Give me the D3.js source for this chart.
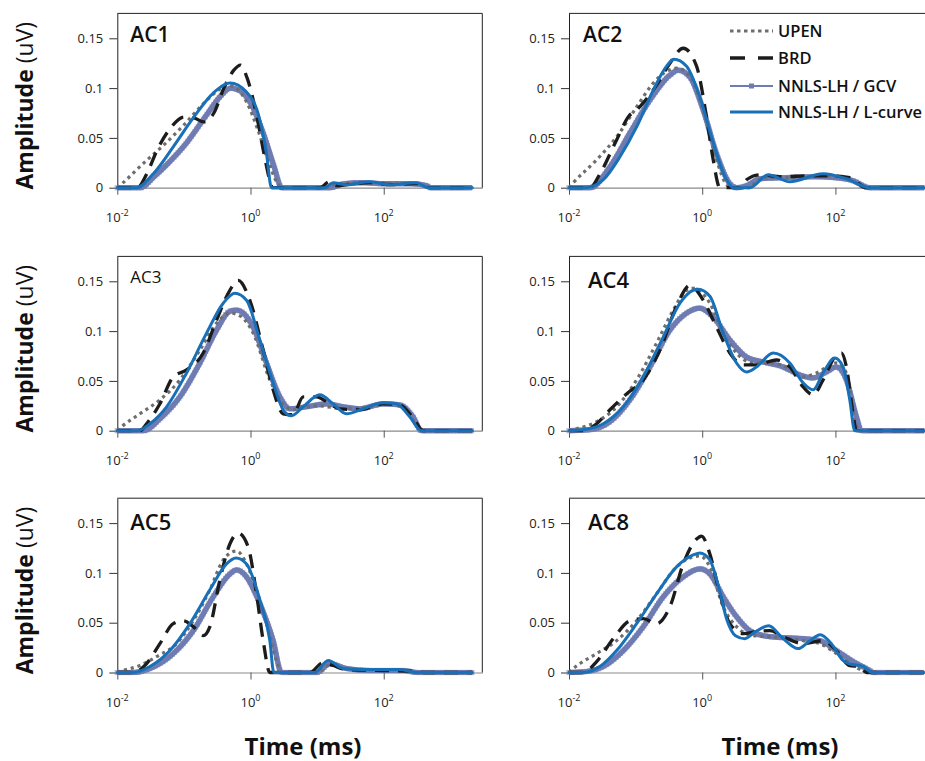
<!DOCTYPE html>
<html><head><meta charset="utf-8">
<script src="https://cdn.jsdelivr.net/npm/d3@7"></script>
<style>body{margin:0;background:#fff;} svg{display:block;font-family:"Open Sans",sans-serif;}</style>
</head><body><svg id="c" width="925" height="761"></svg>
<script>
// Each point: [log10(time in ms), amplitude in uV]
const ac1Upen = [[-2,0],[-1.93,0.004],[-1.6,0.025],[-1.3,0.043],[-1.0,0.063],[-0.7,0.085],[-0.5,0.097],[-0.35,0.103],[-0.2,0.099],[-0.05,0.085],[0.1,0.06],[0.25,0.03],[0.4,0.005],[0.47,0],[1.1,0],[1.3,0.004],[1.6,0.005],[1.9,0.005],[2.2,0.004],[2.5,0.004],[2.7,0],[3.33,0]];
const ac1Brd = [[-2,0],[-1.7,0],[-1.55,0.015],[-1.4,0.038],[-1.2,0.06],[-1.0,0.071],[-0.85,0.07],[-0.7,0.066],[-0.55,0.075],[-0.4,0.1],[-0.25,0.118],[-0.15,0.123],[-0.05,0.11],[0.1,0.07],[0.2,0.035],[0.3,0.005],[0.33,0],[1.05,0],[1.18,0.006],[1.3,0.002],[1.45,0.003],[1.8,0.005],[2.1,0.003],[2.5,0.004],[2.7,0],[3.33,0]];
const ac1Gcv = [[-2,0],[-1.65,0],[-1.45,0.011],[-1.26,0.023],[-0.96,0.045],[-0.66,0.073],[-0.45,0.092],[-0.3,0.1],[-0.15,0.097],[0,0.085],[0.19,0.055],[0.35,0.022],[0.47,0],[1.2,0],[1.4,0.004],[1.7,0.005],[2.0,0.004],[2.4,0.004],[2.65,0.002],[2.7,0],[3.33,0]];
const ac1Lc = [[-2,0],[-1.71,0],[-1.46,0.014],[-1.16,0.041],[-0.86,0.07],[-0.56,0.095],[-0.31,0.105],[-0.06,0.096],[0.14,0.068],[0.24,0.034],[0.315,0],[1.115,0],[1.24,0.005],[1.44,0.003],[1.79,0.006],[2.09,0.003],[2.49,0.005],[2.665,0],[3.33,0]];

const ac2Upen = [[-2,0],[-1.935,0.005],[-1.585,0.028],[-1.285,0.051],[-0.985,0.081],[-0.735,0.105],[-0.5,0.118],[-0.38,0.12],[-0.2,0.113],[0.015,0.078],[0.215,0.028],[0.365,0.003],[0.45,0],[0.7,0],[0.85,0.008],[1.0,0.01],[1.5,0.01],[1.8,0.012],[2.2,0.009],[2.45,0],[3.33,0]];
const ac2Brd = [[-2,0],[-1.685,0],[-1.535,0.014],[-1.285,0.048],[-1.1,0.072],[-0.985,0.078],[-0.85,0.088],[-0.685,0.103],[-0.485,0.125],[-0.285,0.14],[-0.085,0.122],[0.065,0.071],[0.165,0.028],[0.265,0],[0.565,0],[0.665,0.008],[0.865,0.013],[1.2,0.011],[1.6,0.012],[1.9,0.012],[2.215,0.01],[2.465,0],[3.33,0]];
const ac2Gcv = [[-2,0],[-1.68,0],[-1.385,0.021],[-1.085,0.055],[-0.785,0.088],[-0.485,0.113],[-0.36,0.118],[-0.185,0.111],[0.015,0.078],[0.215,0.034],[0.415,0.004],[0.515,0],[0.665,0.002],[0.865,0.009],[1.2,0.01],[1.7,0.011],[2.0,0.01],[2.265,0.007],[2.515,0],[3.33,0]];
const ac2Lc = [[-2,0],[-1.75,0],[-1.485,0.008],[-1.235,0.031],[-0.985,0.061],[-0.735,0.098],[-0.535,0.122],[-0.425,0.129],[-0.235,0.122],[-0.035,0.091],[0.165,0.045],[0.365,0.008],[0.465,0],[0.715,0],[0.99,0.013],[1.315,0.006],[1.815,0.014],[2.165,0.009],[2.515,0],[3.33,0]];

const ac3Upen = [[-2,0],[-1.935,0.004],[-1.66,0.017],[-1.36,0.031],[-1.06,0.051],[-0.76,0.081],[-0.51,0.108],[-0.3,0.118],[-0.15,0.115],[0.04,0.098],[0.29,0.051],[0.49,0.027],[0.64,0.021],[0.8,0.023],[1.0,0.025],[1.4,0.022],[1.9,0.025],[2.1,0.027],[2.3,0.022],[2.6,0],[3.33,0]];
const ac3Brd = [[-2,0],[-1.66,0],[-1.56,0.007],[-1.36,0.027],[-1.16,0.054],[-0.96,0.061],[-0.71,0.078],[-0.51,0.111],[-0.31,0.141],[-0.185,0.151],[-0.01,0.131],[0.19,0.081],[0.34,0.041],[0.49,0.017],[0.64,0.016],[0.79,0.034],[0.99,0.034],[1.19,0.027],[1.34,0.022],[1.64,0.021],[1.99,0.027],[2.24,0.026],[2.45,0.012],[2.59,0],[3.33,0]];
const ac3Gcv = [[-2,0],[-1.6,0],[-1.36,0.012],[-1.06,0.034],[-0.76,0.068],[-0.51,0.101],[-0.31,0.12],[-0.21,0.121],[0.04,0.104],[0.24,0.068],[0.44,0.034],[0.59,0.022],[0.84,0.024],[1.14,0.027],[1.39,0.024],[1.64,0.022],[1.99,0.027],[2.24,0.026],[2.44,0.014],[2.565,0],[3.33,0]];
const ac3Lc = [[-2,0],[-1.7,0],[-1.51,0.007],[-1.26,0.024],[-0.96,0.058],[-0.66,0.098],[-0.41,0.128],[-0.235,0.138],[-0.06,0.131],[0.14,0.091],[0.34,0.048],[0.49,0.021],[0.615,0.015],[0.79,0.024],[1.04,0.036],[1.24,0.027],[1.44,0.017],[1.69,0.022],[1.99,0.028],[2.19,0.027],[2.39,0.014],[2.565,0],[3.33,0]];

const ac4Upen = [[-2,0],[-1.885,0.002],[-1.585,0.009],[-1.285,0.024],[-0.985,0.051],[-0.685,0.088],[-0.435,0.121],[-0.235,0.141],[-0.135,0.143],[0.115,0.128],[0.315,0.098],[0.515,0.078],[0.765,0.068],[1.015,0.068],[1.265,0.064],[1.515,0.054],[1.715,0.058],[2.015,0.068],[2.165,0.058],[2.315,0.004],[2.365,0],[3.33,0]];
const ac4Brd = [[-2,0],[-1.785,0],[-1.585,0.007],[-1.385,0.021],[-1.135,0.037],[-0.885,0.051],[-0.635,0.081],[-0.385,0.125],[-0.185,0.146],[0.015,0.131],[0.215,0.104],[0.415,0.078],[0.615,0.066],[0.815,0.066],[1.115,0.071],[1.315,0.064],[1.515,0.044],[1.665,0.036],[1.815,0.051],[2.015,0.076],[2.09,0.078],[2.165,0.064],[2.265,0.017],[2.315,0],[3.33,0]];
const ac4Gcv = [[-2,0],[-1.685,0.001],[-1.385,0.009],[-1.085,0.031],[-0.785,0.064],[-0.485,0.101],[-0.235,0.118],[-0.035,0.123],[0.165,0.114],[0.415,0.091],[0.665,0.074],[0.915,0.069],[1.215,0.064],[1.465,0.056],[1.665,0.053],[1.865,0.059],[2.015,0.064],[2.165,0.051],[2.315,0.014],[2.39,0],[3.33,0]];
const ac4Lc = [[-2,0],[-1.785,0.001],[-1.485,0.007],[-1.185,0.024],[-0.885,0.054],[-0.585,0.094],[-0.335,0.128],[-0.135,0.141],[-0.06,0.142],[0.115,0.135],[0.315,0.098],[0.515,0.068],[0.665,0.059],[0.815,0.064],[1.065,0.078],[1.315,0.068],[1.515,0.048],[1.665,0.041],[1.815,0.058],[1.99,0.073],[2.115,0.064],[2.215,0.031],[2.29,0],[3.33,0]];

const ac5Upen = [[-2,0],[-1.91,0.002],[-1.66,0.007],[-1.41,0.016],[-1.11,0.029],[-0.86,0.052],[-0.61,0.083],[-0.41,0.113],[-0.21,0.122],[-0.06,0.109],[0.09,0.083],[0.24,0.049],[0.39,0.012],[0.465,0],[1.0,0],[1.2,0.008],[1.4,0.004],[1.8,0.003],[2.3,0.003],[2.5,0],[3.33,0]];
const ac5Brd = [[-2,0],[-1.76,0],[-1.56,0.009],[-1.36,0.029],[-1.16,0.049],[-1.01,0.052],[-0.86,0.046],[-0.71,0.037],[-0.61,0.046],[-0.46,0.093],[-0.31,0.129],[-0.185,0.14],[-0.035,0.126],[0.09,0.079],[0.19,0.032],[0.29,0],[0.89,0],[1.09,0.01],[1.24,0.007],[1.44,0.003],[2.0,0.002],[2.5,0.001],[2.6,0],[3.33,0]];
const ac5Gcv = [[-2,0],[-1.76,0],[-1.51,0.004],[-1.16,0.019],[-0.86,0.042],[-0.56,0.076],[-0.31,0.099],[-0.21,0.103],[-0.06,0.096],[0.14,0.069],[0.34,0.032],[0.465,0],[1.0,0],[1.19,0.009],[1.44,0.004],[1.8,0.002],[2.3,0.002],[2.5,0],[3.33,0]];
const ac5Lc = [[-2,0],[-1.76,0],[-1.51,0.006],[-1.21,0.022],[-0.91,0.049],[-0.61,0.083],[-0.36,0.109],[-0.22,0.115],[-0.06,0.109],[0.14,0.073],[0.29,0.032],[0.35,0],[0.965,0],[1.165,0.012],[1.39,0.004],[1.64,0.003],[2.24,0.003],[2.49,0],[3.33,0]];

const ac8Upen = [[-2,0],[-1.935,0.004],[-1.585,0.019],[-1.285,0.032],[-0.985,0.052],[-0.685,0.079],[-0.385,0.106],[-0.035,0.117],[0.115,0.106],[0.315,0.066],[0.515,0.046],[0.765,0.037],[1.015,0.036],[1.515,0.032],[1.765,0.029],[2.015,0.019],[2.265,0.007],[2.515,0],[3.33,0]];
const ac8Brd = [[-2,0],[-1.785,0],[-1.585,0.011],[-1.335,0.034],[-1.085,0.052],[-0.885,0.054],[-0.685,0.049],[-0.485,0.066],[-0.285,0.109],[-0.085,0.134],[-0.01,0.137],[0.115,0.119],[0.265,0.079],[0.415,0.049],[0.615,0.039],[0.815,0.041],[1.015,0.042],[1.215,0.036],[1.515,0.029],[1.815,0.032],[2.015,0.022],[2.215,0.007],[2.365,0.006],[2.465,0],[3.33,0]];
const ac8Gcv = [[-2,0],[-1.735,0.001],[-1.485,0.006],[-1.185,0.022],[-0.885,0.046],[-0.585,0.076],[-0.285,0.096],[-0.035,0.104],[0.115,0.099],[0.315,0.076],[0.515,0.056],[0.715,0.042],[1.015,0.036],[1.515,0.034],[1.765,0.032],[2.015,0.022],[2.265,0.011],[2.515,0.002],[2.565,0],[3.33,0]];
const ac8Lc = [[-2,0],[-1.785,0],[-1.535,0.006],[-1.285,0.022],[-0.985,0.049],[-0.685,0.079],[-0.385,0.106],[-0.135,0.118],[-0.035,0.12],[0.115,0.113],[0.25,0.085],[0.37,0.053],[0.5,0.037],[0.64,0.034],[0.8,0.041],[1.0,0.047],[1.2,0.035],[1.44,0.024],[1.6,0.031],[1.77,0.038],[1.95,0.028],[2.1,0.013],[2.2,0.009],[2.42,0.006],[2.55,0],[3.33,0]];

const panelNames = ["AC1","AC2","AC3","AC4","AC5","AC8"];
const seriesNames = ["UPEN","BRD","NNLS-LH / GCV","NNLS-LH / L-curve"];
const xTickExponents = [-2, 0, 2];
const yTickValues = [0, 0.05, 0.1, 0.15];

const panelData = {
  AC1:[ac1Upen,ac1Brd,ac1Gcv,ac1Lc], AC2:[ac2Upen,ac2Brd,ac2Gcv,ac2Lc],
  AC3:[ac3Upen,ac3Brd,ac3Gcv,ac3Lc], AC4:[ac4Upen,ac4Brd,ac4Gcv,ac4Lc],
  AC5:[ac5Upen,ac5Brd,ac5Gcv,ac5Lc], AC8:[ac8Upen,ac8Brd,ac8Gcv,ac8Lc]
};

// ---------- layout / style ----------
const colLeft = [117.3, 569];
const zeroY = [187.7, 430.7, 672.5];
const plotW = 365;
const yMax = 0.175;
const plotH = yMax * 996;
const labelStyle = {
  AC1:{dx:13, dy:29, size:21, w:600}, AC2:{dx:14, dy:29, size:21, w:600}, AC3:{dx:13, dy:27, size:17, w:500},
  AC4:{dx:19, dy:32, size:22, w:600}, AC5:{dx:13, dy:32, size:22, w:600}, AC8:{dx:19, dy:32, size:22, w:600}
};
const styles = [
  {color:"#6e6e6e", width:3.2, dash:"3.2,3.8", cap:"butt"},      // UPEN
  {color:"#1c1c1c", width:3.3, dash:"14,9", cap:"butt"},         // BRD
  {color:"#6f7cb3", width:5.2, dash:null, cap:"butt"},           // GCV
  {color:"#1870b8", width:3.0, dash:null, cap:"round"}           // L-curve
];
const drawOrder = [2,0,1,3];

const svg = d3.select("#c");

panelNames.forEach((name,i)=>{
  const col = i % 2, row = Math.floor(i/2);
  const left = colLeft[col], zy = zeroY[row], top = zy - plotH;
  const x = d3.scaleLog().domain([0.01, Math.pow(10,3.48)]).range([left, left+plotW]);
  const y = d3.scaleLinear().domain([0, yMax]).range([zy, top]);
  const g = svg.append("g");

  // x axis (gray baseline)
  const xa = g.append("g").attr("transform",`translate(0,${zy})`)
    .call(d3.axisBottom(x).tickValues(xTickExponents.map(e=>Math.pow(10,e))).tickSize(7).tickSizeOuter(0).tickFormat(""));
  xa.select(".domain").attr("stroke","#8a8a8a").attr("stroke-width",1.2);
  xa.selectAll(".tick line").attr("stroke","#555");
  xTickExponents.forEach(e=>{
    const t = g.append("text").attr("x",x(Math.pow(10,e))).attr("y",zy+34)
      .attr("text-anchor","middle").attr("font-size",13).attr("fill","#222");
    t.append("tspan").text("10");
    t.append("tspan").attr("dy",-6).attr("font-size",9).text(e<0? "-"+Math.abs(e) : String(e));
  });

  // y axis
  const ya = g.append("g").attr("transform",`translate(${left},0)`)
    .call(d3.axisLeft(y).tickValues(yTickValues).tickSize(8).tickPadding(6).tickSizeOuter(0).tickFormat(d3.format("~g")));
  ya.select(".domain").attr("stroke","#222");
  ya.selectAll(".tick line").attr("stroke","#333");
  ya.selectAll(".tick text").attr("font-size",13).attr("fill","#222").attr("font-family","Open Sans, sans-serif");

  // top and right border
  g.append("line").attr("x1",left).attr("x2",left+plotW).attr("y1",top).attr("y2",top).attr("stroke","#222");
  g.append("line").attr("x1",left+plotW).attr("x2",left+plotW).attr("y1",top).attr("y2",zy).attr("stroke","#222");

  // curves
  const line = d3.line().x(d=>x(Math.pow(10,d[0]))).y(d=>y(d[1])).curve(d3.curveMonotoneX);
  drawOrder.forEach(s=>{
    const st = styles[s];
    const p = g.append("path").datum(panelData[name][s]).attr("d",line)
      .attr("fill","none").attr("stroke",st.color).attr("stroke-width",st.width)
      .attr("stroke-linecap",st.cap).attr("stroke-linejoin","round");
    if (st.dash) p.attr("stroke-dasharray",st.dash);
    if (s===2) {
      // square markers along the GCV curve
      const node = p.node(), L = node.getTotalLength();
      const pts = d3.range(0, L, 3).map(l=>node.getPointAtLength(l));
      g.append("g").selectAll("rect").data(pts).join("rect")
        .attr("x",d=>d.x-2.6).attr("y",d=>d.y-2.6).attr("width",5.2).attr("height",5.2)
        .attr("fill",st.color).attr("opacity",0.55);
    }
  });

  // panel label
  const ls = labelStyle[name];
  g.append("text").attr("x",left+ls.dx).attr("y",top+ls.dy).attr("font-size",ls.size)
    .attr("font-weight",ls.w).attr("fill","#111").text(name);

  // y label
  if (col===0) {
    const t = svg.append("text").attr("transform",`translate(33,${zy-82}) rotate(-90)`)
      .attr("text-anchor","middle").attr("font-size",23).attr("fill","#111");
    t.append("tspan").attr("font-weight",700).text("Amplitude");
    t.append("tspan").attr("font-weight",400).text(" (uV)");
  }
});

// x labels
[303, 780].forEach(cx=>{
  svg.append("text").attr("x",cx).attr("y",755).attr("text-anchor","middle")
    .attr("font-size",24).attr("font-weight",700).attr("fill","#111").text("Time (ms)");
});

// legend
const legY = [31, 58, 86, 112];
const lg = svg.append("g");
seriesNames.forEach((n,i)=>{
  const st = styles[i];
  const ln = lg.append("line").attr("x1",730).attr("x2",773).attr("y1",legY[i]).attr("y2",legY[i])
    .attr("stroke",st.color).attr("stroke-width", i===2 ? 1.8 : st.width);
  if (st.dash) ln.attr("stroke-dasharray", i===1 ? "15,13" : "3.5,3.5");
  if (i===2) lg.append("rect").attr("x",749).attr("y",legY[i]-2.5).attr("width",5).attr("height",5).attr("fill",st.color);
  lg.append("text").attr("x",778).attr("y",legY[i]).attr("dy","0.35em")
    .attr("font-size",16.5).attr("font-weight",600).attr("fill","#111").text(n);
});
</script></body></html>
